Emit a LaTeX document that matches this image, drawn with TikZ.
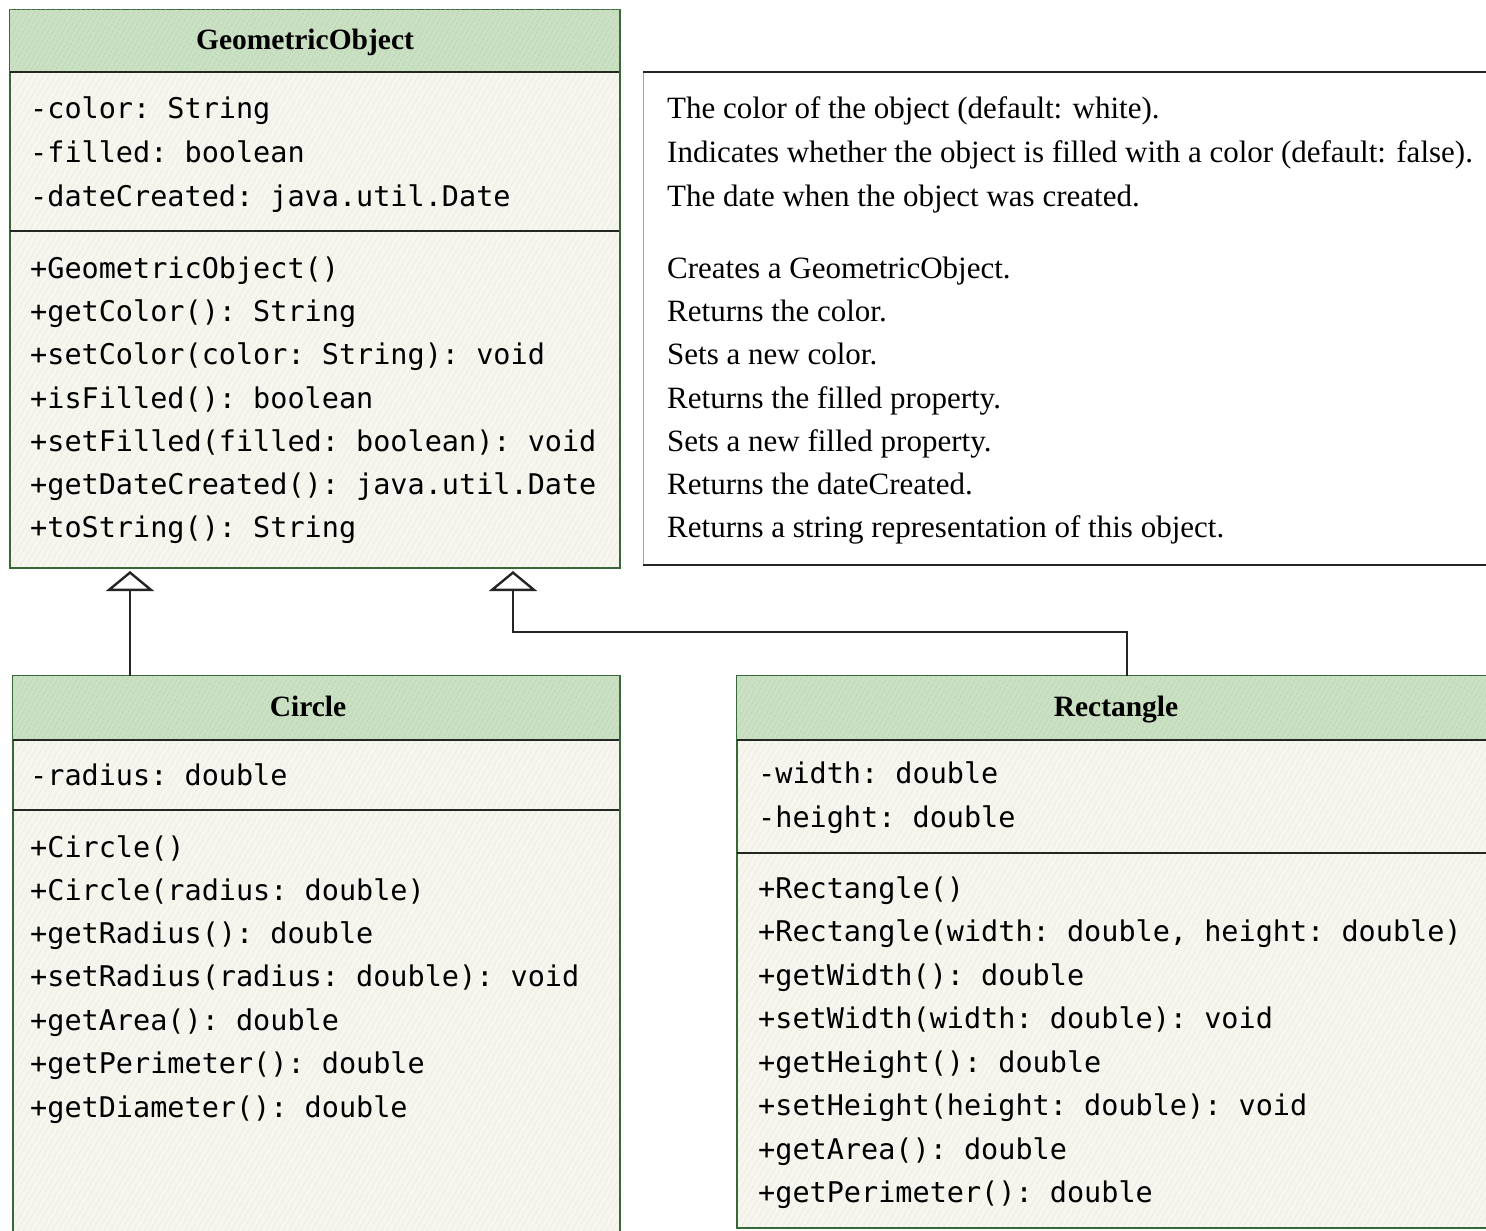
\documentclass[tikz,border=0pt]{standalone}
\usepackage{fontspec}
\setmainfont{Liberation Serif}
\setmonofont{DejaVu Sans Mono}
\usetikzlibrary{arrows.meta,patterns.meta}

\definecolor{hdrgreen}{RGB}{202,224,194}
\definecolor{hatchgreen}{RGB}{172,204,164}
\definecolor{bodyfill}{RGB}{246,246,239}
\definecolor{bodyhatch}{RGB}{234,234,224}
\definecolor{edgegreen}{RGB}{56,104,56}
\definecolor{rulegray}{RGB}{35,38,35}

\tikzset{
  box/.style={anchor=north west, inner sep=0pt, outer sep=0pt},
  classbody/.style={box, draw=edgegreen, line width=1.2pt,
    preaction={fill=bodyfill},
    pattern={Lines[angle=60,distance=5pt,line width=0.5pt]}, pattern color=bodyhatch},
  classhead/.style={box, preaction={fill=hdrgreen},
    pattern={Lines[angle=60,distance=4pt,line width=0.7pt]}, pattern color=hatchgreen},
  divider/.style={draw=rulegray, line width=2.6pt},
  title/.style={anchor=base, inner sep=0pt, font=\fontsize{29.5}{32}\selectfont\bfseries},
  member/.style={anchor=base west, inner sep=0pt, font=\fontsize{28.5}{32}\ttfamily},
  note/.style={anchor=base west, inner sep=0pt, font=\fontsize{31}{34}\selectfont},
  genline/.style={draw=rulegray, line width=2.4pt,
    -{Triangle[open, length=20pt, width=48pt, fill=white]}},
}

\begin{document}
\begin{tikzpicture}[x=1pt,y=-1pt]
\useasboundingbox (0,0) rectangle (1486,1231);
\fill[white] (0,0) rectangle (1486,1231);

% ---------- GeometricObject ----------
\node[classbody, minimum width=610, minimum height=558] (goBody) at (10,10) {};
\node[classhead, minimum width=610, minimum height=62] (goHead) at (10,10) {};
\node[title] (goTitle) at (305,50) {GeometricObject};
\draw[divider] (goBody.west |- 0,72) -- (goBody.east |- 0,72);
\draw[divider, line width=1.8pt] (goBody.west |- 0,231) -- (goBody.east |- 0,231);
\draw[draw=edgegreen, line width=2.6pt] (goBody.north east) -- (goBody.south east);

\node[member] (go1) at (30,118) {-color: String};
\node[member] (go2) at (30,162) {-filled: boolean};
\node[member] (go3) at (30,206) {-dateCreated: java.util.Date};
\node[member] (go4) at (30,278) {+GeometricObject()};
\node[member] (go5) at (30,321) {+getColor(): String};
\node[member] (go6) at (30,364) {+setColor(color: String): void};
\node[member] (go7) at (30,408) {+isFilled(): boolean};
\node[member] (go8) at (30,451) {+setFilled(filled: boolean): void};
\node[member] (go9) at (30,494) {+getDateCreated(): java.util.Date};
\node[member] (go10) at (30,537) {+toString(): String};

% ---------- description note ----------
\node[box, fill=white, draw=gray!70, line width=1pt,
      minimum width=860, minimum height=493] (desc) at (643,72) {};
\draw[draw=rulegray, line width=2.6pt] (desc.north west) -- (desc.north east);
\draw[draw=rulegray, line width=2.6pt] (desc.south west) -- (desc.south east);

\node[note] (d1) at (667,118) {The color of the object (default: white).};
\node[note] (d2) at (667,162) {Indicates whether the object is filled with a color (default: false).};
\node[note] (d3) at (667,206) {The date when the object was created.};
\node[note] (d4) at (667,278) {Creates a GeometricObject.};
\node[note] (d5) at (667,321) {Returns the color.};
\node[note] (d6) at (667,364) {Sets a new color.};
\node[note] (d7) at (667,408) {Returns the filled property.};
\node[note] (d8) at (667,451) {Sets a new filled property.};
\node[note] (d9) at (667,494) {Returns the dateCreated.};
\node[note] (d10) at (667,537) {Returns a string representation of this object.};

% ---------- Circle ----------
\node[classbody, minimum width=607, minimum height=570] (cBody) at (13,676) {};
\node[classhead, minimum width=607, minimum height=64] (cHead) at (13,676) {};
\node[title] (cTitle) at (308,716) {Circle};
\draw[divider] (cBody.west |- 0,740) -- (cBody.east |- 0,740);
\draw[divider, line width=1.8pt] (cBody.west |- 0,810) -- (cBody.east |- 0,810);
\draw[draw=edgegreen, line width=2.6pt] (cBody.north east) -- (cBody.south east);

\node[member] (c1) at (30,785) {-radius: double};
\node[member] (c2) at (30,857) {+Circle()};
\node[member] (c3) at (30,900) {+Circle(radius: double)};
\node[member] (c4) at (30,943) {+getRadius(): double};
\node[member] (c5) at (30,986) {+setRadius(radius: double): void};
\node[member] (c6) at (30,1030) {+getArea(): double};
\node[member] (c7) at (30,1073) {+getPerimeter(): double};
\node[member] (c8) at (30,1117) {+getDiameter(): double};

% ---------- Rectangle ----------
\node[classbody, minimum width=770, minimum height=552] (rBody) at (737,676) {};
\node[classhead, minimum width=770, minimum height=64] (rHead) at (737,676) {};
\node[title] (rTitle) at (1116,716) {Rectangle};
\draw[divider] (rBody.west |- 0,740) -- (rBody.east |- 0,740);
\draw[divider, line width=1.8pt] (rBody.west |- 0,853) -- (rBody.east |- 0,853);

\node[member] (r1) at (758,783) {-width: double};
\node[member] (r2) at (758,827) {-height: double};
\node[member] (r3) at (758,898) {+Rectangle()};
\node[member] (r4) at (758,941) {+Rectangle(width: double, height: double)};
\node[member] (r5) at (758,985) {+getWidth(): double};
\node[member] (r6) at (758,1028) {+setWidth(width: double): void};
\node[member] (r7) at (758,1072) {+getHeight(): double};
\node[member] (r8) at (758,1115) {+setHeight(height: double): void};
\node[member] (r9) at (758,1159) {+getArea(): double};
\node[member] (r10) at (758,1202) {+getPerimeter(): double};

% ---------- generalization connectors ----------
\coordinate (cTop) at (cHead.north -| 130,0);
\coordinate (goTipC) at (130,571);
\draw[genline] (cTop) -- (goTipC);

\coordinate (rTop) at (rHead.north -| 1127,0);
\coordinate (bendR) at (1127,632);
\coordinate (bendL) at (513,632);
\coordinate (goTipR) at (513,571);
\draw[genline] (rTop) -- (bendR) -- (bendL) -- (goTipR);
\end{tikzpicture}
\end{document}
